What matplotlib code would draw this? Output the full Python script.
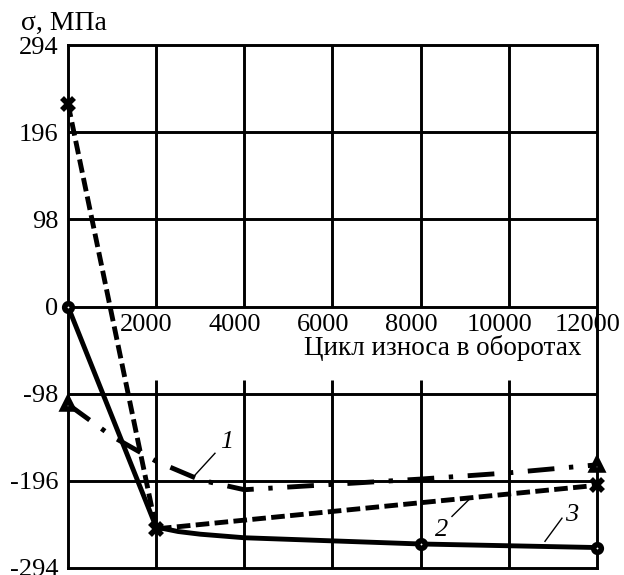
import matplotlib
matplotlib.use("Agg")
import matplotlib.pyplot as plt

plt.rcParams['font.family'] = ['Liberation Serif', 'DejaVu Serif']

# Wear cycle (revolutions) and residual stress (MPa) for three curves
x_ticks = [2000, 4000, 6000, 8000, 10000, 12000]
y_ticks = [-294, -196, -98, 0, 98, 196, 294]
y_tick_labels = ["-294", "-196", "-98", "0", "98", "196", "294"]

# Curve 1: dash-dot, triangles at the ends
c1_x = [0, 1000, 2000, 3000, 4000, 6000, 8000, 10000, 12000]
c1_y = [-110, -146, -174, -195, -206, -200, -194, -187, -178]
c1_mx = [0, 12000]
c1_my = [-110, -178]

# Curve 2: dashed, crosses
c2_x = [0, 2000, 12000]
c2_y = [228, -250, -201]

# Curve 3: solid, circles
c3_x = [0, 2000, 2500, 3000, 4000, 8000, 12000]
c3_y = [0, -248, -253, -256, -260, -267, -271]
c3_mx = [0, 8000, 12000]
c3_my = [0, -267, -271]

x_label = "Цикл износа в оборотах"
y_label = "σ, МПа"

W, H = 624, 575
fig = plt.figure(figsize=(W / 100, H / 100), dpi=100)
ax = fig.add_axes([68 / W, 1 - 568 / H, (597 - 68) / W, (568 - 45) / H])
ax.set_xlim(0, 12000)
ax.set_ylim(-294, 294)

grid_lw = 2.1
for s in ax.spines.values():
    s.set_linewidth(grid_lw)
    s.set_color("black")

# grid: horizontal lines across, vertical lines broken under the tick-label band
for yv in y_ticks[1:-1]:
    ax.axhline(yv, color="black", lw=grid_lw, zorder=1)
for xv in x_ticks[:-1]:
    ax.vlines(xv, 0, 294, color="black", lw=grid_lw, zorder=1)
    ax.vlines(xv, -294, -83, color="black", lw=grid_lw, zorder=1)

ax.set_xticks([])
ax.set_yticks(y_ticks)
ax.set_yticklabels(y_tick_labels, fontsize=19)
ax.tick_params(axis="y", length=0, pad=7)

# x tick labels sit just below the zero line
for xv in x_ticks:
    ax.text(xv - 220, -21, f"{xv}", fontsize=19, ha="center", va="center",
            bbox=dict(facecolor="white", edgecolor="none", pad=0.5), zorder=2)
ax.text(8505, -47, x_label, fontsize=19.5, ha="center", va="center", zorder=2)
fig.text(21 / W, 1 - 23 / H, y_label, fontsize=20, ha="left", va="center")

lw = 3.5
mk = dict(markerfacecolor="white", markeredgecolor="black",
          clip_on=False, zorder=6, linestyle="none")

# curve 1
ax.plot(c1_x, c1_y, color="black", lw=lw, dashes=(5.5, 3, 0.9, 3),
        dash_capstyle="butt", zorder=4, clip_on=False)
ax.plot(c1_mx, c1_my, marker="^", markersize=7, markeredgewidth=4, **mk)

# curve 2
ax.plot(c2_x, c2_y, color="black", lw=lw, dashes=(2.8, 1.1),
        dash_capstyle="butt", zorder=4, clip_on=False)
ax.plot(c2_x, c2_y, marker="x", markersize=8, markeredgewidth=4,
        color="black", linestyle="none", clip_on=False, zorder=6)

# curve 3
ax.plot(c3_x, c3_y, color="black", lw=lw, solid_capstyle="round", zorder=4,
        clip_on=False)
ax.plot(c3_mx, c3_my, marker="o", markersize=5.5, markeredgewidth=4, **mk)

# curve numbers with leader lines
labels = [("1", 3606, -152, (3334, -165), (2835, -192)),
          ("2", 8483, -251, (8710, -236), (9118, -216)),
          ("3", 11432, -234, (11205, -238), (10820, -264))]
for txt, tx, ty, p0, p1 in labels:
    ax.text(tx, ty, txt, fontsize=19, style="italic", ha="center", va="center",
            zorder=7)
    ax.plot([p0[0], p1[0]], [p0[1], p1[1]], color="black", lw=1.0, zorder=7)

fig.savefig("out.png", dpi=100)
